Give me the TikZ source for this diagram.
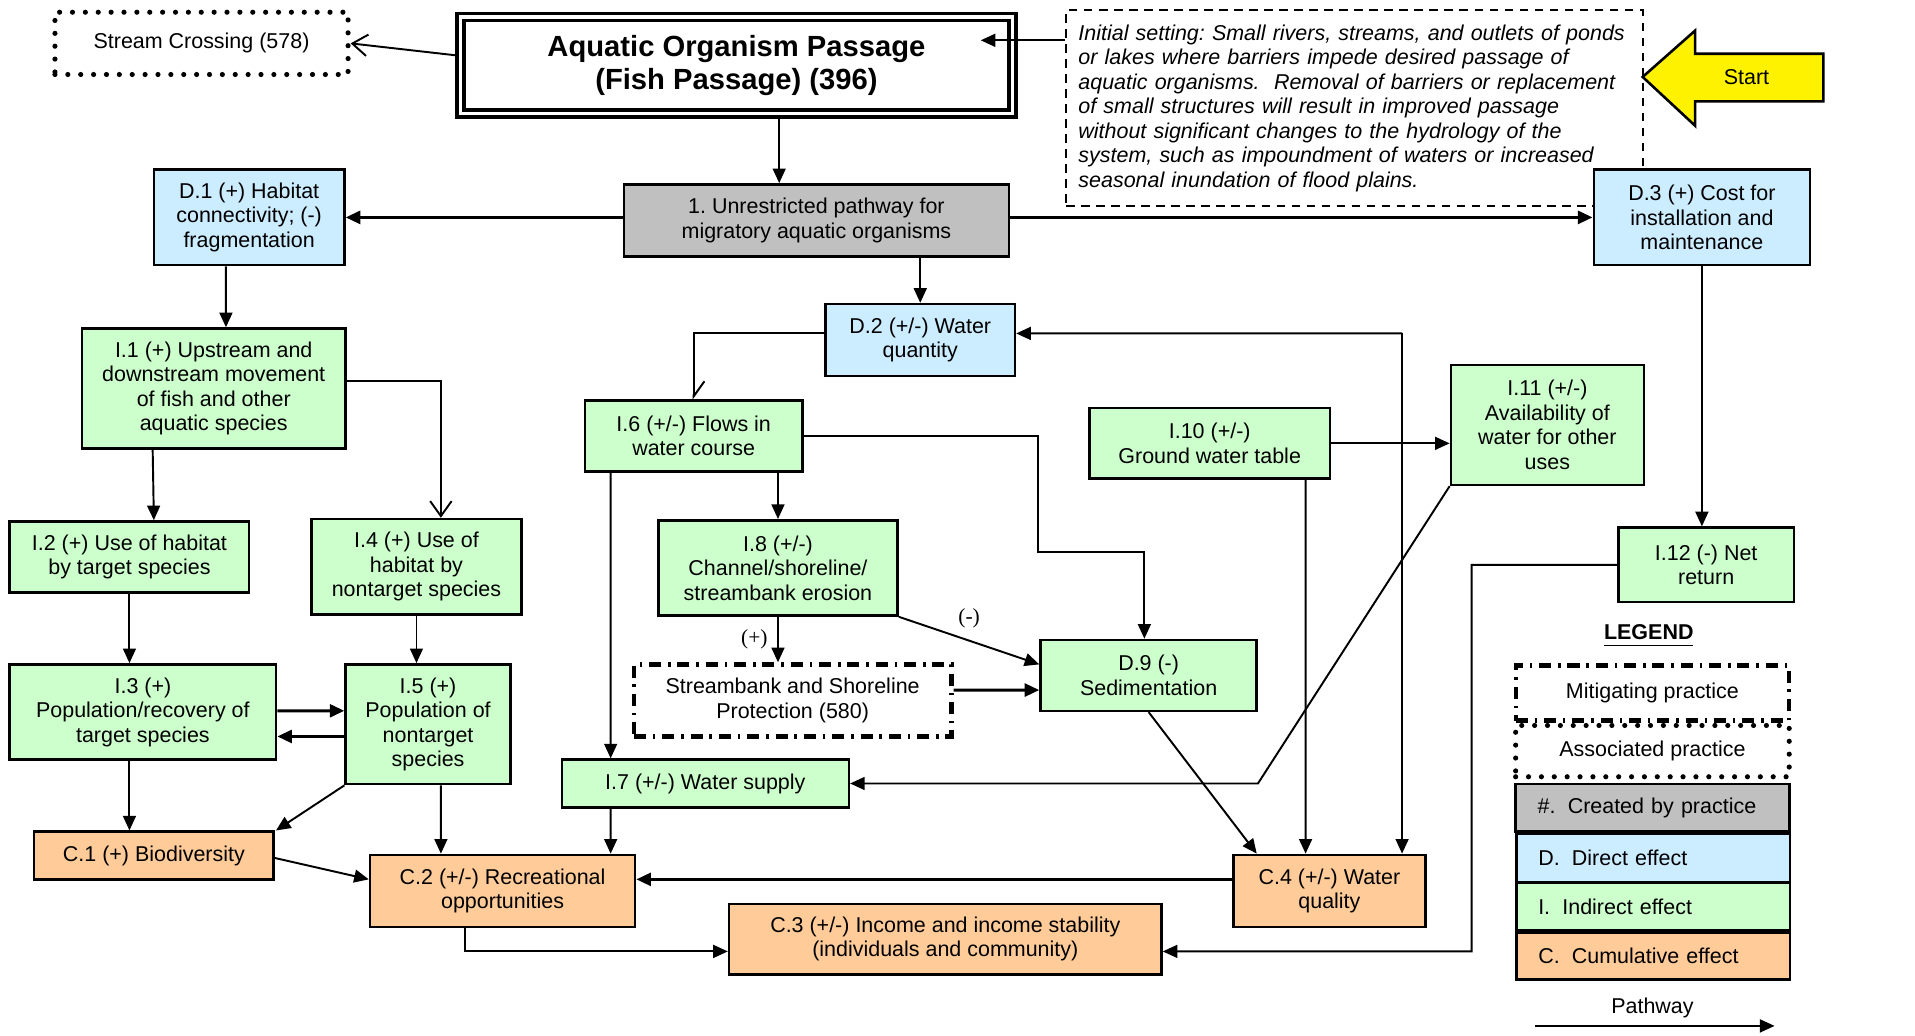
\documentclass[tikz,border=0pt]{standalone}
\usepackage{fontspec}
\setmainfont{Liberation Sans}
\newfontfamily\signfont{Liberation Serif}
\usepackage{xcolor}
\usepackage{tikz}
\usetikzlibrary{arrows.meta}
\frenchspacing
\definecolor{DirBlue}{HTML}{CCECFF}
\definecolor{IndGreen}{HTML}{CCFFCC}
\definecolor{CumOrange}{HTML}{FFCC99}
\definecolor{CreGray}{HTML}{C0C0C0}
\tikzset{
  base/.style={draw,line width=0.6pt,align=center,inner sep=1pt,
    font=\fontsize{5}{5.7}\selectfont},
  gnode/.style={base,fill=CreGray},
  dnode/.style={base,fill=DirBlue},
  inode/.style={base,fill=IndGreen},
  cnode/.style={base,fill=CumOrange},
  mitnode/.style={base,line width=1pt,dash pattern=on 2.8pt off 1.6pt on 0.6pt off 1.6pt},
  assnode/.style={base,line width=1.2pt,line cap=round,dash pattern=on 0pt off 3pt},
  titlenode/.style={draw,double,line width=0.8pt,double distance=0.8pt,align=center,
    font=\bfseries\fontsize{6.8}{7.7}\selectfont},
  initnode/.style={draw,line width=0.5pt,dash pattern=on 2pt off 1.5pt,
    text width=4.52cm,align=left,inner xsep=0.1cm,minimum height=1.57cm,
    font=\itshape\fontsize{5}{5.7}\selectfont},
  legnode/.style={base,text width=1.88cm,align=left,inner xsep=0.18cm},
  wh/.style 2 args={minimum width=#1cm,minimum height=#2cm},
  arr/.style={line width=0.45pt,-{Triangle[length=3.4pt,width=3pt]}},
  arrT/.style={arr,line width=0.7pt},
  openarr/.style={line width=0.45pt,-{Straight Barb[length=3.5pt,width=5pt]}},
  sign/.style={font=\signfont\fontsize{5}{6}\selectfont,inner sep=0.5pt},
}
\begin{document}
\begin{tikzpicture}
  \useasboundingbox (0,0) rectangle (15.68,-8.48);
  \node[assnode,wh={2.40}{0.51}] (stream) at (1.65,-0.355) {Stream Crossing (578)};
  \node[titlenode,wh={4.52}{0.79}] (title) at (6.03,-0.535) {Aquatic Organism Passage\\(Fish Passage) (396)};
  \node[initnode] (init) at (11.09,-0.885) {Initial setting: Small rivers, streams, and outlets of ponds\\
    or lakes where barriers impede desired passage of\\
    aquatic organisms.\ \ Removal of barriers or replacement\\
    of small structures will result in improved passage\\
    without significant changes to the hydrology of the\\
    system, such as impoundment of waters or increased\\
    seasonal inundation of flood plains.};
  \draw[fill=yellow,line width=0.6pt] (13.45,-0.63) -- (13.88,-0.25) -- (13.88,-0.44) -- (14.93,-0.44)
    -- (14.93,-0.83) -- (13.88,-0.83) -- (13.88,-1.03) -- cycle;
  \node[font=\fontsize{5}{5.7}\selectfont] (start) at (14.30,-0.63) {Start};

  \node[gnode,wh={3.15}{0.59}] (unres) at (6.685,-1.805) {1. Unrestricted pathway for\\migratory aquatic organisms};
  \node[dnode,wh={1.56}{0.78}] (d1) at (2.04,-1.78) {D.1 (+) Habitat\\connectivity; (-)\\fragmentation};
  \node[dnode,wh={1.77}{0.78}] (d3) at (13.935,-1.78) {D.3 (+) Cost for\\installation and\\maintenance};
  \node[dnode,wh={1.55}{0.59}] (d2) at (7.535,-2.785) {D.2 (+/-) Water\\quantity};

  \node[inode,wh={2.16}{0.98}] (i1) at (1.75,-3.18) {I.1 (+) Upstream and\\downstream movement\\of fish and other\\aquatic species};
  \node[inode,wh={1.96}{0.58}] (i2) at (1.06,-4.56) {I.2 (+) Use of habitat\\by target species};
  \node[inode,wh={1.72}{0.78}] (i4) at (3.41,-4.64) {I.4 (+) Use of\\habitat by\\nontarget species};
  \node[inode,wh={2.18}{0.78}] (i3) at (1.17,-5.83) {I.3 (+)\\Population/recovery of\\target species};
  \node[inode,wh={1.35}{0.98}] (i5) at (3.505,-5.93) {I.5 (+)\\Population of\\nontarget\\species};
  \node[inode,wh={1.78}{0.58}] (i6) at (5.68,-3.57) {I.6 (+/-) Flows in\\water course};
  \node[inode,wh={1.96}{0.78}] (i8) at (6.37,-4.65) {I.8 (+/-)\\Channel/shoreline/\\streambank erosion};
  \node[mitnode,wh={2.60}{0.59}] (sbp) at (6.49,-5.735) {Streambank and Shoreline\\Protection (580)};
  \node[inode,wh={1.77}{0.58}] (d9) at (9.405,-5.53) {D.9 (-)\\Sedimentation};
  \node[inode,wh={2.35}{0.39}] (i7) at (5.775,-6.415) {I.7 (+/-) Water supply};
  \node[inode,wh={1.97}{0.58}] (i10) at (9.905,-3.63) {I.10 (+/-)\\Ground water table};
  \node[inode,wh={1.58}{0.98}] (i11) at (12.67,-3.48) {I.11 (+/-)\\Availability of\\water for other\\uses};
  \node[inode,wh={1.44}{0.61}] (i12) at (13.97,-4.625) {I.12 (-) Net\\return};

  \node[cnode,wh={1.96}{0.39}] (c1) at (1.26,-7.005) {C.1 (+) Biodiversity};
  \node[cnode,wh={2.17}{0.59}] (c2) at (4.115,-7.295) {C.2 (+/-) Recreational\\opportunities};
  \node[cnode,wh={3.54}{0.58}] (c3) at (7.74,-7.69) {C.3 (+/-) Income and income stability\\(individuals and community)};
  \node[cnode,wh={1.57}{0.59}] (c4) at (10.885,-7.295) {C.4 (+/-) Water\\quality};

  \node[font=\bfseries\fontsize{5}{5.7}\selectfont] (legtitle) at (13.50,-5.21) {\underline{LEGEND}};
  \node[mitnode,wh={2.24}{0.45}] (lmit) at (13.53,-5.675) {Mitigating practice};
  \node[assnode,wh={2.24}{0.42}] (lass) at (13.53,-6.15) {Associated practice};
  \node[legnode,fill=CreGray,minimum height=0.39cm] (lcre) at (13.53,-6.615) {\#.\hspace{1mm}Created by practice};
  \node[legnode,fill=DirBlue,minimum height=0.39cm] (ldir) at (13.535,-7.025) {D.\hspace{1mm}Direct effect};
  \node[legnode,fill=IndGreen,minimum height=0.39cm] (lind) at (13.535,-7.425) {I.\hspace{1mm}Indirect effect};
  \node[legnode,fill=CumOrange,minimum height=0.38cm] (lcum) at (13.535,-7.83) {C.\hspace{1mm}Cumulative effect};
  \node[font=\fontsize{5}{5.7}\selectfont] (lpath) at (13.53,-8.25) {Pathway};
  \coordinate (pa) at (12.57,-8.40);
  \coordinate (pb) at (14.53,-8.40);
  \draw[arr] (pa) -- (pb);

  \coordinate (tin) at (8.03,-0.33);
  \coordinate (j1) at (11.48,-2.73);
  \coordinate (bend12) at (12.05,-7.79);
  \coordinate (kink6) at (8.50,-4.52);
  \coordinate (kink11) at (10.30,-6.415);

  \draw[openarr] (title.178) -- (stream.east);
  \draw[arr] (init.west |- tin) -- (tin);
  \draw[arr] ([xshift=0.35cm]title.south) -- ([xshift=-0.305cm]unres.north);
  \draw[arrT] (unres.west |- d1.east) -- (d1.east);
  \draw[arrT] (unres.east |- d3.west) -- (d3.west);
  \draw[arr] (unres.south -| d2.north) -- (d2.north);
  \draw[arr] ([xshift=-0.19cm]d1.south) -- ([xshift=0.10cm]i1.north);
  \draw[openarr] ([yshift=0.06cm]i1.east) -| ([xshift=0.2cm]i4.north);
  \draw[arr] ([xshift=-0.5cm]i1.south) -- ([xshift=0.2cm]i2.north);
  \draw[arr] (i2.south) -- (i2.south |- i3.north);
  \draw[arr] (i4.south) -- (i4.south |- i5.north);
  \draw[arrT] ([yshift=0.01cm]i3.east) -- ([yshift=0.11cm]i5.west);
  \draw[arrT] ([yshift=-0.1cm]i5.west) -- ([yshift=-0.2cm]i3.east);
  \draw[arr] ([xshift=-0.11cm]i3.south) -- ([xshift=-0.2cm]c1.north);
  \draw[arr] (i5.south west) -- ([xshift=1.0cm]c1.north);
  \draw[arr] ([xshift=0.105cm]i5.south) -- ([xshift=-0.505cm]c2.north);
  \draw[arr] ([yshift=-0.02cm]c1.east) -- ([yshift=0.095cm]c2.west);
  \draw[arr] ([xshift=-0.305cm]c2.south) |- ([yshift=-0.1cm]c3.west);
  \draw[arrT] ([yshift=0.095cm]c4.west) -- ([yshift=0.095cm]c2.east);
  \draw[arr] (i12.west) -| (bend12) -- ([yshift=-0.1cm]c3.east);
  \draw[arr] (d3.south) -- (d3.south |- i12.north);
  \draw[line width=0.45pt,-{Straight Barb[left,length=3.5pt,width=5pt]}] ([yshift=0.055cm]d2.west) -| (i6.north);
  \draw[arr] (j1) -- ([yshift=0.055cm]d2.east);
  \draw[arr] (j1) -- (j1 |- c4.north);
  \draw[arr] (i6.south -| i8.north) -- (i8.north);
  \draw[arr] (i6.east) -| (kink6) -| ([xshift=-0.035cm]d9.north);
  \draw[arr] (i8.south) -- (i8.south |- sbp.north) node[sign,midway,left=0.06cm] (lplus) {(+)};
  \draw[arr] (i8.south east) -- ([yshift=0.09cm]d9.west) node[sign,midway,above=0.08cm] (lminus) {(-)};
  \draw[arrT] ([yshift=0.085cm]sbp.east) -- ([yshift=-0.12cm]d9.west);
  \draw[arr] (d9.south) -- ([xshift=-0.595cm]c4.north);
  \draw[arr] ([xshift=-0.68cm]i6.south) -- ([xshift=-0.775cm]i7.north);
  \draw[arr] ([xshift=-0.775cm]i7.south) -- ([xshift=0.885cm]c2.north);
  \draw[arr] (i10.east) -- (i10.east -| i11.west);
  \draw[arr] ([xshift=0.785cm]i10.south) -- ([xshift=-0.195cm]c4.north);
  \draw[arr] (i11.south west) -- (kink11) -- (i7.east);
\end{tikzpicture}
\end{document}
